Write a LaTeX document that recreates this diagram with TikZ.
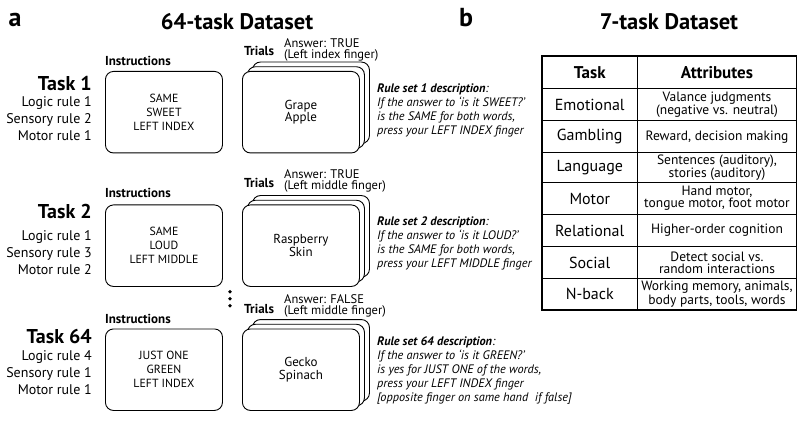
\documentclass[tikz,border=0pt]{standalone}
\usepackage{fontspec}
\setmainfont{PT Sans}
\usetikzlibrary{positioning}

\begin{document}
\begin{tikzpicture}[x=1pt,y=-1pt]
        \tikzset{
            panel/.style={font=\fontsize{26}{28}\bfseries\selectfont, inner sep=0},
            heading/.style={font=\fontsize{22.5}{24}\bfseries\selectfont, inner sep=0},
            tasklbl/.style={font=\fontsize{20}{22}\bfseries\selectfont, inner sep=0, anchor=base east},
            rulelist/.style={font=\fontsize{14}{17}\selectfont, inner sep=0, align=right, anchor=north east},
            smalllbl/.style={font=\fontsize{13}{14}\bfseries\selectfont, inner sep=0, anchor=base west},
            answer/.style={font=\fontsize{12.5}{11}\selectfont, inner sep=0, align=left, anchor=north west},
            instbox/.style={
                draw,
                line width=0.9pt,
                rounded corners=8pt,
                fill=white,
                minimum width=117pt,
                minimum height=81.5pt,
                align=center,
                anchor=north west,
                font=\fontsize{11.8}{14}\selectfont
            },
            card/.style={instbox, font=\fontsize{13}{12.5}\selectfont},
            desc/.style={font=\fontsize{12.3}{14}\selectfont\itshape, inner sep=0, align=left, anchor=north west},
            cell/.style={font=\fontsize{16}{18}\selectfont},
            cellhd/.style={font=\fontsize{17}{18}\bfseries\selectfont},
            attr/.style={font=\fontsize{13.5}{12}\selectfont, align=center}
        }
        \useasboundingbox (0,0) rectangle (800,430);

        \node[panel] (pa) at (15,20) {a};
        \node[heading] (ta) at (237,22) {64-task Dataset};
        \node[panel] (pb) at (466,18) {b};
        \node[heading] (tb) at (669,22) {7-task Dataset};

        % TASK 1
        \node[tasklbl] (k1) at (92,91) {Task 1};
        \node[rulelist] (r1) at (92,96.5) {Logic rule 1\\Sensory rule 2\\Motor rule 1};
        \node[smalllbl] (i1l) at (105,66) {Instructions};
        \node[instbox] (i1) at (105,71) {SAME\\SWEET\\LEFT INDEX};
        \node[smalllbl] (t1l) at (244,56) {Trials};
        \node[answer] (a1) at (284,38) {Answer: TRUE\\(Left index finger)};
        \node[card] (c1b) at (252,61.6) {};
        \node[card] (c1m) at (247,66.3) {};
        \node[card] (c1) at (242,71) {Grape\\Apple};
        \node[desc] (d1) at (377,83.2) {\textbf{Rule set 1 description}:\\If the answer to `is it SWEET?'\\is the SAME for both words,\\press your LEFT INDEX finger};

        % TASK 2
        \node[tasklbl] (k2) at (92,219) {Task 2};
        \node[rulelist] (r2) at (92,230.5) {Logic rule 1\\Sensory rule 3\\Motor rule 2};
        \node[smalllbl] (i2l) at (105,198) {Instructions};
        \node[instbox] (i2) at (105,204.5) {SAME\\LOUD\\LEFT MIDDLE};
        \node[smalllbl] (t2l) at (244,188) {Trials};
        \node[answer] (a2) at (284,169.5) {Answer: TRUE\\(Left middle finger)};
        \node[card] (c2b) at (252,195.1) {};
        \node[card] (c2m) at (247,199.8) {};
        \node[card] (c2) at (242,204.5) {Raspberry\\Skin};
        \node[desc] (d2) at (377,216.2) {\textbf{Rule set 2 description}:\\If the answer to `is it LOUD?'\\is the SAME for both words,\\press your LEFT MIDDLE finger};

        \foreach \y/\n in {291.7/1,298.7/2,305.7/3} { %DOTS
            \fill[black] (230,\y) circle (1.9pt) coordinate (dot\n);
        }

        % TASK 64
        \node[tasklbl] (k64) at (92,343) {Task 64};
        \node[rulelist] (r64) at (92,350.5) {Logic rule 4\\Sensory rule 1\\Motor rule 1};
        \node[smalllbl] (i64l) at (105,323) {Instructions};
        \node[instbox] (i64) at (105,328.5) {JUST ONE\\GREEN\\LEFT INDEX};
        \node[smalllbl] (t64l) at (244,313) {Trials};
        \node[answer] (a64) at (284,294.5) {Answer: FALSE\\(Left middle finger)};
        \node[card] (c64b) at (252,319.1) {};
        \node[card] (c64m) at (247,323.8) {};
        \node[card] (c64) at (242,328.5) {Gecko\\Spinach};
        \node[desc] (d64) at (377,336.2) {\textbf{Rule set 64 description}:\\If the answer to `is it GREEN?'\\is yes for JUST ONE of the words,\\press your LEFT INDEX finger\\{[}opposite finger on same hand\ \ if false{]}};

        % TABLE
        \foreach \y in {88.3,120.7,152.7,182.7,214.3,246.7,278.3} {
            \draw[line width=1.2pt] (542,\y) -- (796.5,\y);
        }
        \draw[line width=1.2pt] (637.5,56) -- (637.5,310);
        \draw[line width=1.6pt] (542,56) rectangle (796.5,310);

        \node[cellhd] (h1) at (589.75,72.2) {Task};
        \node[cellhd] (h2) at (717,72.2) {Attributes};
        \node[cell] (n1) at (589.75,104.5) {Emotional};
        \node[attr] (m1) at (717,104.5) {Valance judgments\\(negative vs. neutral)};
        \node[cell] (n2) at (589.75,136.7) {Gambling};
        \node[attr] (m2) at (717,136.7) {Reward, decision making};
        \node[cell] (n3) at (589.75,167.7) {Language};
        \node[attr] (m3) at (717,167.7) {Sentences (auditory),\\stories (auditory)};
        \node[cell] (n4) at (589.75,198.5) {Motor};
        \node[attr] (m4) at (717,198.5) {Hand motor,\\tongue motor, foot motor};
        \node[cell] (n5) at (589.75,230.5) {Relational};
        \node[attr] (m5) at (717,230.5) {Higher-order cognition};
        \node[cell] (n6) at (589.75,262.5) {Social};
        \node[attr] (m6) at (717,262.5) {Detect social vs.\\random interactions};
        \node[cell] (n7) at (589.75,294.2) {N-back};
        \node[attr] (m7) at (717,294.2) {Working memory,\ animals,\\body parts, tools, words};

    \end{tikzpicture}
\end{document}
